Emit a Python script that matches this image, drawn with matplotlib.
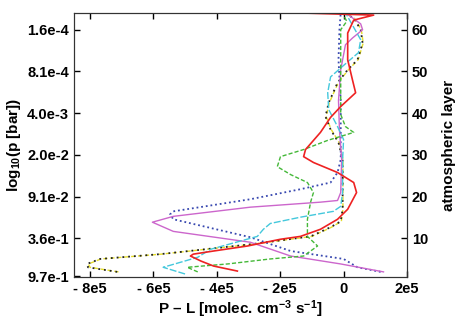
import matplotlib
matplotlib.use('Agg')
import matplotlib.pyplot as plt

plt.rcParams['font.family'] = ['Liberation Sans', 'DejaVu Sans']
plt.rcParams['font.weight'] = 'bold'
plt.rcParams['mathtext.fontset'] = 'custom'
plt.rcParams['mathtext.rm'] = 'Liberation Sans'
plt.rcParams['mathtext.bf'] = 'Liberation Sans:bold'
plt.rcParams['mathtext.default'] = 'bf'

# P - L in units of 1e5, layer index
red_x = [-3.35, -4.1, -4.5, -4.83, -4.74, -4.1, -3.03, -2.0, -1.36, -0.73, -0.19, 0.13, 0.41, 0.32,
         -0.19, -0.95, -1.26, -1.2, -0.73, -0.41, -0.09, 0.38, 0.28, 0.13, 0.13, 0.32, 0.95, -1.3]
red_y = [2.2, 3.4, 4.6, 5.8, 6.25, 7.0, 8.2, 9.8, 10.5, 12.2, 14.6, 17.0, 21.0, 23.4,
         25.8, 28.2, 29.6, 31.3, 35.4, 39.0, 41.6, 44.9, 48.0, 52.8, 59.2, 62.3, 63.5, 64.0]

green_x = [-4.6, -4.93, -3.66, -2.31, -1.26, -0.82, -1.14, -1.14, -1.04, -0.95, -1.14, -1.67, -2.09,
           -1.99, -1.26, -0.5, 0.32, 0.06, -0.09, -0.09, -0.09, -0.09, 0.1, 0.0]
green_y = [2.0, 3.1, 3.9, 5.1, 5.8, 8.2, 10.5, 14.6, 18.7, 21.0, 23.4, 25.3, 27.2,
           29.6, 31.3, 33.5, 35.4, 36.8, 39.7, 45.6, 52.8, 60.0, 62.0, 63.5]

cyan_x = [-5.0, -5.69, -4.6, -4.2, -2.72, -2.53, -2.31, -1.36, -0.32, -0.09, -0.03, -0.03, 0.0,
          -0.19, -0.47, -0.5, -0.41, 0.13, 0.47, 0.54, 0.28, 0.1]
cyan_y = [1.5, 3.1, 5.5, 7.4, 10.5, 12.2, 13.6, 15.1, 16.5, 17.7, 21.0, 28.9, 33.7,
          36.8, 40.9, 44.9, 48.7, 52.3, 54.5, 57.6, 61.1, 63.5]

magenta_x = [1.26, -0.09, -1.67, -2.94, -5.37, -6.03, -5.37, -2.94, -0.73, -0.19, -0.09, -0.06,
             -0.13, -0.16, -0.09, 0.06, 0.28, 0.6, 0.54, 0.16]
magenta_y = [2.0, 3.9, 5.8, 9.1, 11.7, 13.9, 15.3, 17.5, 18.7, 19.1, 21.0, 28.9,
             36.0, 43.0, 50.4, 56.4, 58.0, 60.0, 61.4, 63.5]

blue_x = [1.17, 0.44, 0.0, -1.67, -2.94, -5.37, -5.47, -5.37, -2.94, -1.36, -0.41, -0.19, -0.09,
          -0.09, -0.16, -0.13, -0.09]
blue_y = [2.0, 3.1, 5.1, 7.0, 10.3, 14.6, 15.8, 16.5, 19.4, 21.8, 23.4, 25.8, 28.9,
          43.0, 52.8, 60.0, 64.0]

black_x = [-7.14, -8.06, -8.09, -7.68, -5.78, -2.94, -1.04, -0.41, -0.09, -0.03, -0.03, -0.16,
           -0.41, -0.57, -0.47, -0.19, 0.13, 0.44, 0.6, 0.54, 0.32, 0.0]
black_y = [2.0, 3.1, 3.9, 5.1, 6.25, 8.6, 10.5, 12.7, 14.1, 17.0, 28.9, 33.0,
           36.1, 39.2, 42.5, 47.3, 50.4, 52.8, 56.8, 60.0, 62.8, 64.0]

yellow_x = [-7.1, -8.0, -8.05, -7.65, -5.75, -2.9, -1.0, -0.38, -0.07, -0.02, -0.02, -0.14,
            -0.39, -0.55, -0.45, -0.17, 0.15, 0.46, 0.62, 0.56, 0.34, 0.02]
yellow_y = black_y

layer_ticks = [1, 10, 20, 30, 40, 50, 60]
p_labels = ['9.7e-1', '3.6e-1', '9.1e-2', '2.0e-2', '4.0e-3', '8.1e-4', '1.6e-4']
x_ticks = [-8, -6, -4, -2, 0, 2]
x_labels = ['- 8e5', '- 6e5', '- 4e5', '- 2e5', '0', '2e5']

fig = plt.figure(figsize=(4.63, 3.25), dpi=100)
ax = fig.add_axes([0.160, 0.148, 0.719, 0.812])

ax.plot(yellow_x, yellow_y, color='#e6de2a', lw=1.0, ls=(0, (3, 2)))
ax.plot(black_x, black_y, color='#222222', lw=1.3, ls=(0, (1, 2.2)))
ax.plot(blue_x, blue_y, color='#3848b0', lw=1.3, ls=(0, (1, 1.6)))
ax.plot(magenta_x, magenta_y, color='#cc66cc', lw=1.0, ls='-')
ax.plot(cyan_x, cyan_y, color='#44c8dc', lw=1.0, ls=(0, (5, 1.5)))
ax.plot(green_x, green_y, color='#44b838', lw=1.0, ls=(0, (3, 1.5)))
ax.plot(red_x, red_y, color='#ee2222', lw=1.2)

ax.set_xlim(-8.5, 2.0)
ax.set_ylim(0.8, 64)
ax.set_xticks(x_ticks)
ax.set_xticklabels(x_labels)
ax.set_yticks(layer_ticks)
ax.set_yticklabels(p_labels)
ax.tick_params(direction='in', length=4, labelsize=10.5, top=True, width=1)
ax.set_xlabel(r'P – L [molec. cm$^{-3}$ s$^{-1}$]', fontsize=11, fontweight='bold', labelpad=2)
ax.set_ylabel(r'log$_{10}$(p [bar])', fontsize=11, fontweight='bold', labelpad=3)

ax2 = ax.twinx()
ax2.set_ylim(0.8, 64)
ax2.set_yticks([10, 20, 30, 40, 50, 60])
ax2.tick_params(direction='in', length=4, labelsize=10.5, width=1)
ax2.set_ylabel('atmospheric layer', fontsize=11, fontweight='bold', labelpad=10)

for a in (ax, ax2):
    for s in a.spines.values():
        s.set_color('#333333')

fig.savefig('out.png', dpi=100)
